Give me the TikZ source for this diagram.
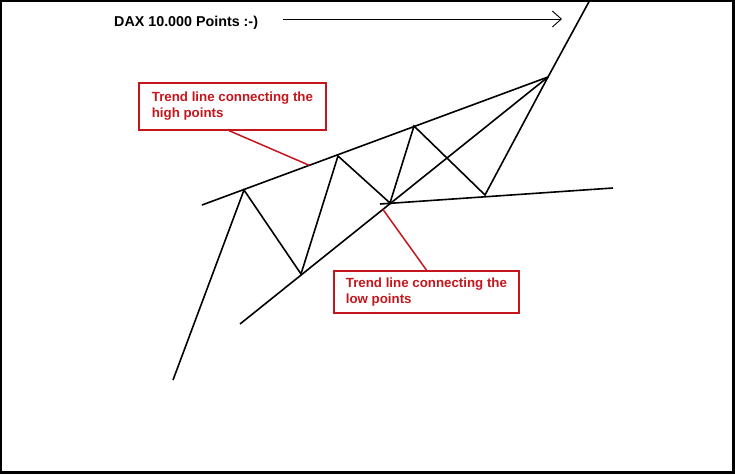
\documentclass[tikz,border=0pt]{standalone}
\usepackage{fontspec}
\setmainfont{Liberation Sans}
\usetikzlibrary{arrows.meta,calc}
\definecolor{rojoNota}{HTML}{C4161C}

\begin{document}
\begin{tikzpicture}[x=1pt,y=-1pt,
  curva/.style={line width=1.6pt,line join=miter},
  nota/.style={draw=rojoNota,line width=1.8pt,text=rojoNota,align=left,
    font=\fontsize{13.3}{16}\selectfont\bfseries,inner sep=0pt,anchor=north west}]
  \useasboundingbox (0,0) rectangle (735,474);
  \draw[line width=2.5pt] (1,1) rectangle (733.5,472.5);
  % price path
  \coordinate (p0) at (173,380);
  \coordinate (p1) at (244,190);
  \coordinate (p2) at (301,274);
  \coordinate (p3) at (338,156);
  \coordinate (p4) at (390,203);
  \coordinate (p5) at (414,126);
  \coordinate (p6) at (485,195);
  \coordinate (p7) at (548,77);
  \coordinate (p8) at (591,-2);
  \draw[curva] (p0) -- (p1) -- (p2) -- (p3) -- (p4) -- (p5) -- (p6) -- (p7) -- (p8);
  % trend lines
  \coordinate (h0) at (202,205);
  \coordinate (l0) at (240,324);
  \draw[curva] (h0) -- (p7);
  \draw[curva] (l0) -- (p7);
  \coordinate (s0) at (380,204);
  \coordinate (s1) at (613,188);
  \draw[curva] (s0) -- (s1);
  % target
  \node[font=\fontsize{14.3}{17}\selectfont\bfseries,anchor=base west,inner sep=0pt]
    (dax) at (114,26) {DAX 10.000 Points :-)};
  \coordinate (flechaIni) at (283,19);
  \coordinate (flechaFin) at (562,19);
  \draw[line width=0.9pt,-{Straight Barb[length=9pt,width=16pt]}] (flechaIni) -- (flechaFin);
  % notes
  \node[nota,minimum width=187pt,minimum height=47pt] (notaAlta) at (138,82)
    {Trend line connecting the\\high points};
  \node[nota,minimum width=185pt,minimum height=42pt] (notaBaja) at (333,270)
    {Trend line connecting the\\low points};
  \draw[rojoNota,line width=1.5pt] ([xshift=-3pt]notaAlta.south) -- ($(h0)!0.31!(p7)$);
  \draw[rojoNota,line width=1.5pt] (notaBaja.north) -- ($(l0)!0.464!(p7)$);
\end{tikzpicture}
\end{document}
